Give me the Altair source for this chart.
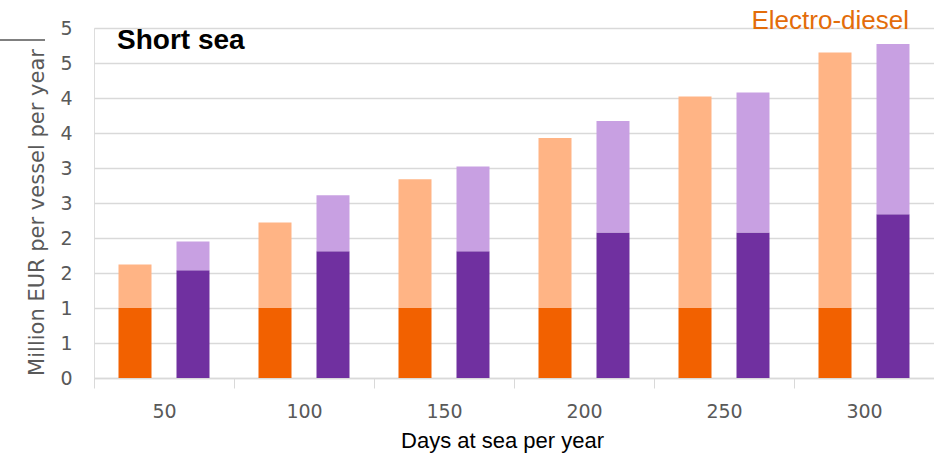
import altair as alt
import pandas as pd

# Annual cost per vessel, short-sea segment (million EUR)
days = [50, 100, 150, 200, 250, 300]
electro_fixed = [1.00, 1.00, 1.00, 1.00, 1.00, 1.00]
electro_variable = [0.62, 1.22, 1.84, 2.43, 3.02, 3.65]
alt_fixed = [1.54, 1.81, 1.81, 2.08, 2.08, 2.34]
alt_variable = [0.41, 0.80, 1.21, 1.59, 2.00, 2.43]

y_ticks = [0, 0.5, 1, 1.5, 2, 2.5, 3, 3.5, 4, 4.5, 5]

segments = ["Electro-diesel fixed", "Electro-diesel variable",
            "Alternative fixed", "Alternative variable"]
segment_colors = ["#F26100", "#FFB485", "#7030A0", "#C8A0E2"]

rows = []
for i, d in enumerate(days):
    rows.append({"days": str(d), "tech": "Electro-diesel", "segment": segments[0], "order": 0, "value": electro_fixed[i]})
    rows.append({"days": str(d), "tech": "Electro-diesel", "segment": segments[1], "order": 1, "value": electro_variable[i]})
    rows.append({"days": str(d), "tech": "Alternative", "segment": segments[2], "order": 0, "value": alt_fixed[i]})
    rows.append({"days": str(d), "tech": "Alternative", "segment": segments[3], "order": 1, "value": alt_variable[i]})
df = pd.DataFrame(rows)

W, H = 840, 350
label_font = "DejaVu Sans"
grey = "#595959"
grid_grey = "#D9D9D9"

bars = alt.Chart(df).mark_bar().encode(
    x=alt.X("days:N", sort=[str(d) for d in days],
            scale=alt.Scale(paddingInner=0, paddingOuter=0),
            axis=alt.Axis(title="Days at sea per year", labelAngle=0,
                          labelFont=label_font, labelFontSize=19, labelColor=grey,
                          labelBaseline="alphabetic", labelPadding=29,
                          tickBand="extent", tickSize=10, tickColor=grid_grey,
                          domainColor=grid_grey, domainWidth=1.5,
                          titleFont="Liberation Sans", titleFontSize=22,
                          titleFontWeight="normal", titleColor="#000000",
                          titleX=408, titleY=69, titleAlign="center",
                          titleBaseline="alphabetic", grid=False)),
    xOffset=alt.XOffset("tech:N", sort=["Electro-diesel", "Alternative"],
                        scale=alt.Scale(paddingInner=0.431, paddingOuter=0.4225)),
    y=alt.Y("value:Q", stack="zero",
            scale=alt.Scale(domain=[0, 5], nice=False),
            axis=alt.Axis(title="Million EUR per vessel per year", values=y_ticks,
                          labelExpr="format(round(datum.value), 'd')",
                          labelOverlap=False,
                          labelFont=label_font, labelFontSize=19,
                          labelColor=grey, labelPadding=22, ticks=False, domain=False,
                          gridColor=grid_grey, gridWidth=1.5,
                          titleFont=label_font, titleFontSize=21,
                          titleFontWeight="normal", titleColor=grey,
                          titleAngle=270, titleX=-57, titleY=184,
                          titleAlign="center", titleBaseline="middle")),
    color=alt.Color("segment:N", scale=alt.Scale(domain=segments, range=segment_colors),
                    legend=None),
    order=alt.Order("order:Q"),
)

short_sea = alt.Chart().mark_text(
    text="Short sea", font="Liberation Sans", fontSize=28, fontWeight="bold",
    align="left", baseline="alphabetic", color="#000000"
).encode(x=alt.value(23), y=alt.value(21))

legend_label = alt.Chart().mark_text(
    text="Electro-diesel", font="Liberation Sans", fontSize=26,
    align="right", baseline="alphabetic", color="#E36C09"
).encode(x=alt.value(815), y=alt.value(1))

edge_line = alt.Chart().mark_rule(color="#000000", strokeWidth=1).encode(
    x=alt.value(-94), x2=alt.value(-49), y=alt.value(12)
)

chart = alt.layer(bars, short_sea, legend_label, edge_line).properties(
    width=W, height=H,
    autosize=alt.AutoSizeParams(type="none"),
    padding={"left": 94, "top": 28, "right": 0, "bottom": 82},
).configure_view(stroke=None).configure(background="white")

chart.save("out.html", embed_options={"renderer": "svg", "actions": False})
